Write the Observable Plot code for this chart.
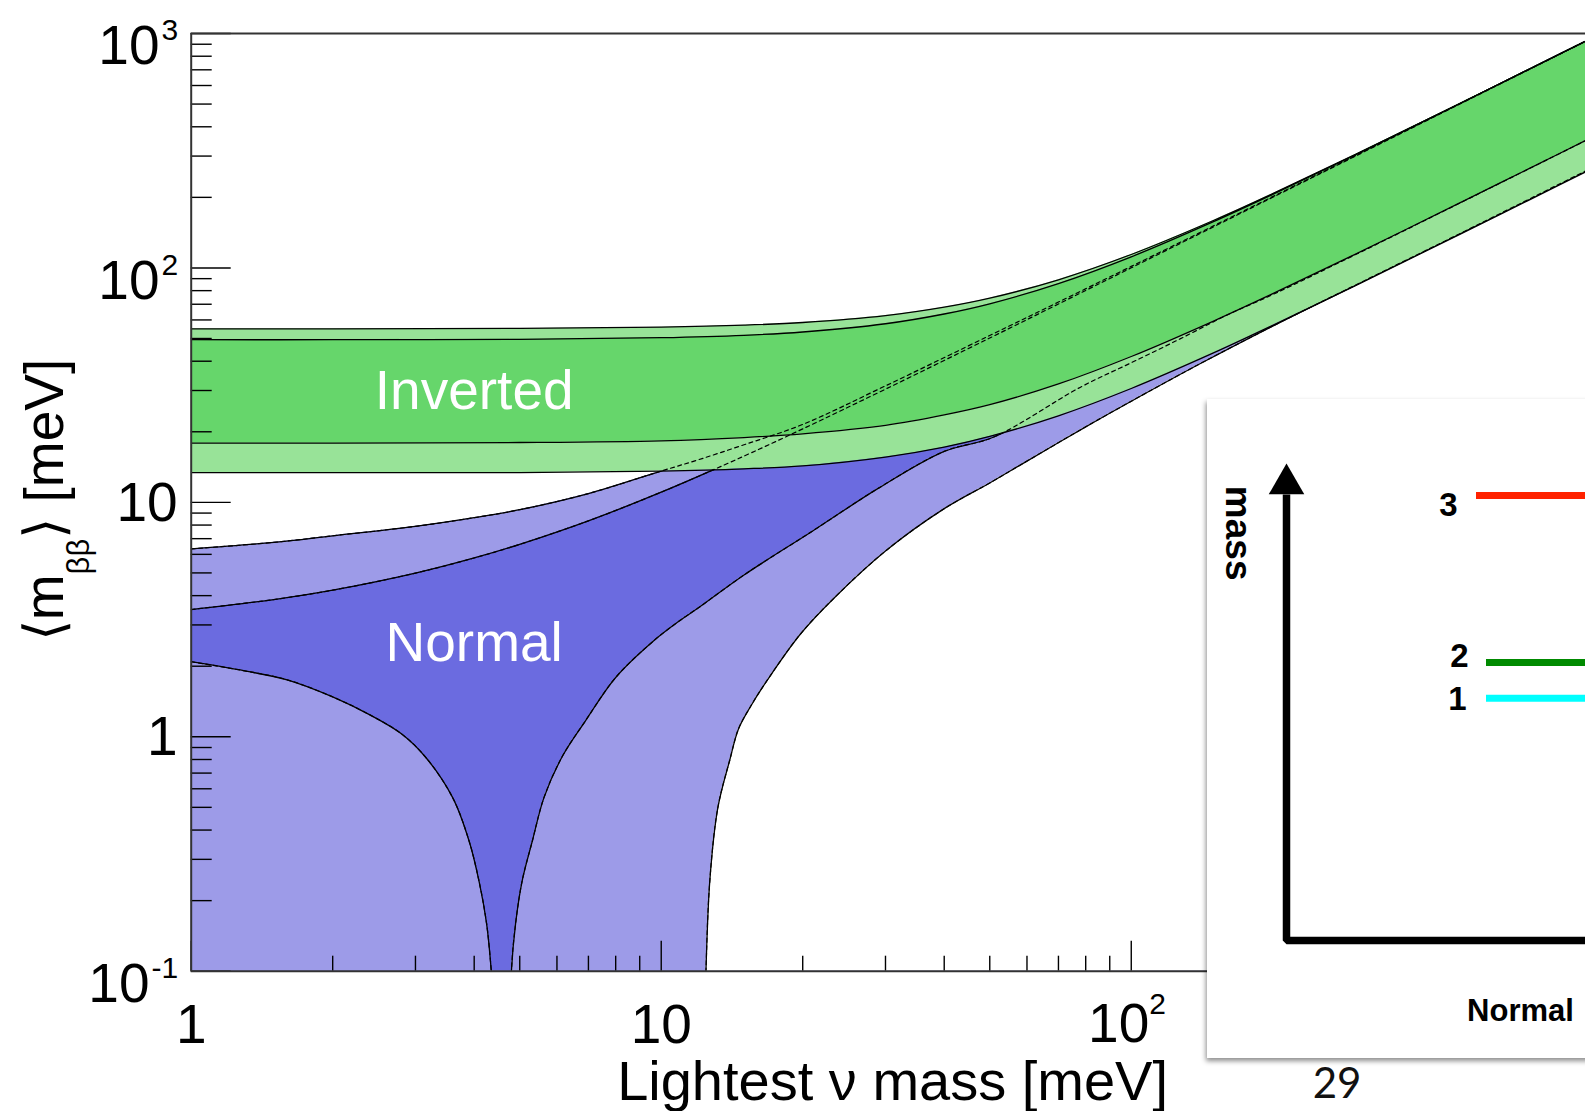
<!DOCTYPE html>
<html>
<head>
<meta charset="utf-8">
<script src="https://cdn.jsdelivr.net/npm/d3@7"></script>
<script src="https://cdn.jsdelivr.net/npm/@observablehq/plot@0.6"></script>
<style>
  html, body { margin: 0; padding: 0; background: #ffffff; overflow: hidden; width: 1585px; height: 1111px; }
  #chart { position: absolute; left: 0; top: 0; }
  #inset { position: absolute; left: 1207px; top: 399px; width: 430px; height: 659px; background: #ffffff; box-shadow: -1px 3px 5px rgba(0,0,0,0.45); }
  svg { display: block; }
</style>
</head>
<body>
<div id="chart"></div>
<div id="inset"></div>
<script>
// ---------------- data ----------------
// Inverted hierarchy: lightest mass [meV] and <m_bb> [meV]
const mIH          = [1, 2, 5, 10, 15, 20, 30, 40, 50, 70, 100, 150, 200, 300, 500, 700, 1000];
const ihOuterHigh  = [55.0, 55.0, 55.2, 55.9, 57.0, 58.5, 62.6, 68.0, 74.3, 89.0, 114.1, 159.7, 207.4, 305.0, 503.0, 702.2, 1001.5];
const ihInnerHigh  = [49.4, 49.4, 49.6, 50.4, 51.6, 53.3, 57.8, 63.6, 70.3, 85.7, 111.5, 157.9, 206.0, 304.0, 502.4, 701.7, 1001.2];
const ihInnerLow   = [17.9, 17.9, 18.0, 18.3, 18.9, 19.6, 21.3, 23.6, 26.1, 32.0, 41.9, 59.5, 77.7, 114.6, 189.4, 264.5, 377.5];
const ihOuterLow   = [13.4, 13.4, 13.4, 13.6, 13.9, 14.3, 15.6, 17.2, 19.1, 23.4, 30.6, 43.5, 56.9, 84.1, 139.1, 194.3, 277.3];

// Normal hierarchy
const mNHOuterHigh = [1, 1.5, 2, 3, 4, 5, 7, 10, 12, 15, 20, 30, 50, 70, 100, 150, 200, 300, 500, 1000];
const nhOuterHigh  = [6.33, 6.75, 7.2, 7.9, 8.6, 9.3, 10.9, 13.6, 15.2, 17.6, 21.5, 31.4, 51.5, 71.5, 101.5, 151.5, 201.5, 301.5, 501.5, 1001.5];
const mNHInnerHigh = [1, 1.5, 2, 3, 4, 5, 7, 10, 15, 20, 30, 50, 70, 100, 150, 200, 300, 500, 1000];
const nhInnerHigh  = [3.49, 3.85, 4.22, 4.99, 5.79, 6.62, 8.34, 11.05, 15.75, 20.58, 30.4, 50.24, 70.17, 100.1, 150.1, 200.1, 300.0, 500.0, 1000.0];
const mNHInnerLow  = [1, 1.3, 1.6, 2, 2.4, 2.8, 3.15, 3.6, 3.9, 4.1, 4.25, 4.35, 4.45, 4.55, 4.7, 4.8, 4.9, 5.06, 5.32, 5.63, 6.15, 6.9, 8, 9.6, 11, 12, 15, 21, 29, 40, 51, 78, 100, 127, 160, 200, 300, 500, 1000];
const nhInnerLow   = [2.09, 1.91, 1.75, 1.48, 1.24, 1.03, 0.82, 0.55, 0.36, 0.24, 0.16, 0.1, 0.05, 0.01, 0.01, 0.1, 0.16, 0.243, 0.36, 0.55, 0.82, 1.17, 1.79, 2.55, 3.15, 3.55, 4.9, 7.55, 11.5, 16.5, 19.0, 31.0, 39.4, 49.8, 63.0, 77.0, 114.0, 189.0, 377.0];
const mNHOuterLow  = [1, 12.2, 12.45, 12.7, 13.2, 14, 14.6, 15.5, 16.8, 19.8, 23.3, 30, 40, 50, 60, 80, 100, 140, 200, 300, 500, 1000];
const nhOuterLow   = [0.01, 0.01, 0.1, 0.25, 0.5, 0.8, 1.08, 1.35, 1.74, 2.75, 3.9, 6.2, 9.4, 12.1, 15.0, 21.0, 27.0, 39.0, 56.5, 84.5, 140.0, 280.0];

// region labels
const regionNames = ["Inverted", "Normal"];
const regionM     = [4.0, 4.0];
const regionMbb   = [29.7, 2.51];

// axes
const xDomain = [1, 925.6];
const yDomain = [0.1, 1000];
const xMajor = [1, 10, 100];
const xMinor = [2,3,4,5,6,7,8,9,20,30,40,50,60,70,80,90,200,300,400,500,600,700,800,900];
const yMajor = [0.1, 1, 10, 100, 1000];
const yMinor = [0.2,0.3,0.4,0.5,0.6,0.7,0.8,0.9,2,3,4,5,6,7,8,9,20,30,40,50,60,70,80,90,200,300,400,500,600,700,800,900];
const xTickBase = ["1", "10", "10"];
const xTickExp  = ["", "", "2"];
const yTickBase = ["10", "1", "10", "10", "10"];
const yTickExp  = ["-1", "", "", "2", "3"];

// inset (mass ordering sketch, normal)
const levelNames  = ["1", "2", "3"];
const levelMass   = [0.508, 0.583, 0.933];
const levelColors = ["#00ffff", "#008a00", "#ff2200"];

// ---------------- layout / style ----------------
const W = 1585, H = 1111;
const ML = 190.7, MT = 33, MB = H - 970.7, MR = 0;
const frameW = W - ML - MR, frameH = H - MT - MB;
const FONT = "'Liberation Sans', Arial, Helvetica, sans-serif";
const LB = "#9d9be8", DB = "#6b6be0", LG = "#98e398", DG = "#66d66b";
const big = 55, sup = 30;
const CURVE = "catmull-rom";
const FLOOR = 0.001; // below the plotted range, used as area baseline

const pts = (ms, vs) => ms.map((m, i) => ({m, v: vs[i]}));
const ihRows = mIH.map((m, i) => ({m, oh: ihOuterHigh[i], ih: ihInnerHigh[i], il: ihInnerLow[i], ol: ihOuterLow[i]}));
const ihOH = pts(mIH, ihOuterHigh), ihIH = pts(mIH, ihInnerHigh), ihIL = pts(mIH, ihInnerLow), ihOL = pts(mIH, ihOuterLow);
const nhOH = pts(mNHOuterHigh, nhOuterHigh), nhIH = pts(mNHInnerHigh, nhInnerHigh);
const nhIL = pts(mNHInnerLow, nhInnerLow), nhOL = pts(mNHOuterLow, nhOuterLow);

// fill everything under a curve (painter's order builds the normal-hierarchy bands)
const under = (d, fill) => Plot.areaY(d, {x: "m", y1: () => FLOOR, y2: "v", fill, curve: CURVE, clip: true});
const solid = d => Plot.line(d, {x: "m", y: "v", stroke: "#000", strokeWidth: 1.3, curve: CURVE, clip: true});
const dashed = d => Plot.line(d, {x: "m", y: "v", stroke: "#000", strokeWidth: 1.2, strokeDasharray: "4,3.5", curve: CURVE, clip: true});

const supW = s => [...s].reduce((a, c) => a + (c === "-" ? 0.333 : 0.556), 0) * sup;

const yLabelMarks = yMajor.flatMap((v, i) => {
  const e = yTickExp[i];
  if (!e) return [Plot.text([v], {y: d => d, frameAnchor: "left", lineAnchor: "middle", text: () => yTickBase[i], textAnchor: "end", dx: -13.5, dy: 1, fontSize: big})];
  return [
    Plot.text([v], {y: d => d, frameAnchor: "left", lineAnchor: "middle", text: () => yTickBase[i], textAnchor: "end", dx: -14 - supW(e) - 1, dy: 13, fontSize: big}),
    Plot.text([v], {y: d => d, frameAnchor: "left", lineAnchor: "middle", text: () => e, textAnchor: "end", dx: -13, dy: -3, fontSize: sup})
  ];
});
const xLabelMarks = xMajor.flatMap((v, i) => {
  const e = xTickExp[i];
  if (!e) return [Plot.text([v], {x: d => d, frameAnchor: "bottom", lineAnchor: "middle", text: () => xTickBase[i], dy: 54, fontSize: big})];
  return [
    Plot.text([v], {x: d => d, frameAnchor: "bottom", lineAnchor: "middle", text: () => xTickBase[i], textAnchor: "end", dx: 18, dy: 53, fontSize: big}),
    Plot.text([v], {x: d => d, frameAnchor: "bottom", lineAnchor: "middle", text: () => e, textAnchor: "start", dx: 18, dy: 33, fontSize: sup})
  ];
});

const chart = Plot.plot({
  width: W, height: H,
  marginLeft: ML, marginRight: MR, marginTop: MT, marginBottom: MB,
  x: {type: "log", domain: xDomain, axis: null},
  y: {type: "log", domain: yDomain, axis: null},
  style: {fontFamily: FONT, background: "#ffffff", overflow: "visible", maxWidth: "none"},
  marks: [
    // normal hierarchy bands
    under(nhOH, LB),
    under(nhIH, DB),
    under(nhIL, LB),
    under(nhOL, "#ffffff"),
    solid(nhOH), solid(nhOL), solid(nhIH), solid(nhIL),
    // inverted hierarchy bands
    Plot.areaY(ihRows, {x: "m", y1: "ol", y2: "oh", fill: LG, curve: CURVE, clip: true}),
    Plot.areaY(ihRows, {x: "m", y1: "il", y2: "ih", fill: DG, curve: CURVE, clip: true}),
    solid(ihOH), solid(ihOL), solid(ihIH), solid(ihIL),
    // normal-hierarchy edges seen through the inverted bands
    dashed(nhOH), dashed(nhIH), dashed(nhIL), dashed(nhOL),
    Plot.text(regionNames, {x: (d, i) => regionM[i], y: (d, i) => regionMbb[i], text: d => d, fill: "#ffffff", fontSize: 55}),
    Plot.tickY(yMinor, {y: d => d, insetRight: frameW - 21, stroke: "#000", strokeWidth: 1.4}),
    Plot.tickY(yMajor, {y: d => d, insetRight: frameW - 40, stroke: "#000", strokeWidth: 1.4}),
    Plot.tickX(xMinor.filter(v => v < xDomain[1]), {x: d => d, insetTop: frameH - 15, stroke: "#000", strokeWidth: 1.4}),
    Plot.tickX(xMajor, {x: d => d, insetTop: frameH - 30, stroke: "#000", strokeWidth: 1.4}),
    Plot.ruleX([xDomain[0]], {x: d => d, stroke: "#333", strokeWidth: 2}),
    Plot.ruleY(yDomain, {y: d => d, stroke: "#333", strokeWidth: 2}),
    ...yLabelMarks,
    ...xLabelMarks
  ]
});

// axis titles
const svg = d3.select(chart);
svg.append("text")
  .attr("x", 1168).attr("y", 1100).attr("text-anchor", "end")
  .style("font-family", FONT).style("font-size", "56px").attr("fill", "#000")
  .text("Lightest \u03bd mass [meV]");
const yt = svg.append("text")
  .attr("transform", "translate(63,500) rotate(-90)").attr("text-anchor", "middle")
  .style("font-family", FONT).style("font-size", "55px").attr("fill", "#000");
yt.append("tspan").text("\u27e8m");
yt.append("tspan").attr("dy", 26).style("font-size", "31px").text("\u03b2\u03b2");
yt.append("tspan").attr("dy", -26).text("\u27e9 [meV]");
// slide page number
svg.append("text")
  .attr("x", 1337).attr("y", 1098).attr("text-anchor", "middle")
  .style("font-family", "Lato, 'Open Sans', sans-serif").style("font-size", "42px").attr("fill", "#111")
  .text("29");

document.getElementById("chart").appendChild(chart);

// ---------------- inset ----------------
const lineStart = [0.5, 0.5, 0.475];
const labelX = [0.4275, 0.4325, 0.405];
const labelDy = [1, -5.5, 9.5];
const levelData = levelNames.map((name, i) => ({name, mass: levelMass[i], color: levelColors[i], start: lineStart[i]}));
const axisPath = [{x: 0, y: 0.935}, {x: 0, y: 0}, {x: 1, y: 0}];

const inset = Plot.plot({
  width: 430, height: 659, margin: 0,
  x: {domain: [0, 1], range: [79, 479], axis: null},
  y: {domain: [0, 1], range: [541, 64], axis: null},
  color: {type: "identity"},
  style: {fontFamily: FONT, background: "transparent", overflow: "visible", maxWidth: "none"},
  marks: [
    Plot.line(axisPath, {x: "x", y: "y", stroke: "#000", strokeWidth: 7.5, strokeLinejoin: "miter", strokeLinecap: "butt"}),
    Plot.dot([0], {x: () => 0, y: () => 0.9568, symbol: "triangle", r: 13.2, fill: "#000", stroke: "none"}),
    Plot.ruleY(levelData, {y: "mass", x1: "start", x2: () => 1, stroke: "color", strokeWidth: 7}),
    ...levelData.map((d, i) => Plot.text([d], {x: () => labelX[i], y: "mass", text: "name", lineAnchor: "middle", dy: labelDy[i], fontSize: 33, fontWeight: "bold"})),
    Plot.text(["mass"], {x: () => -0.122, y: () => 0.854, text: d => d, rotate: 90, lineAnchor: "middle", fontSize: 37, fontWeight: "bold"}),
    Plot.text(["Normal"], {x: () => 0.585, y: () => -0.147, text: d => d, lineAnchor: "middle", fontSize: 31, fontWeight: "bold"})
  ]
});
document.getElementById("inset").appendChild(inset);
</script>
</body>
</html>
